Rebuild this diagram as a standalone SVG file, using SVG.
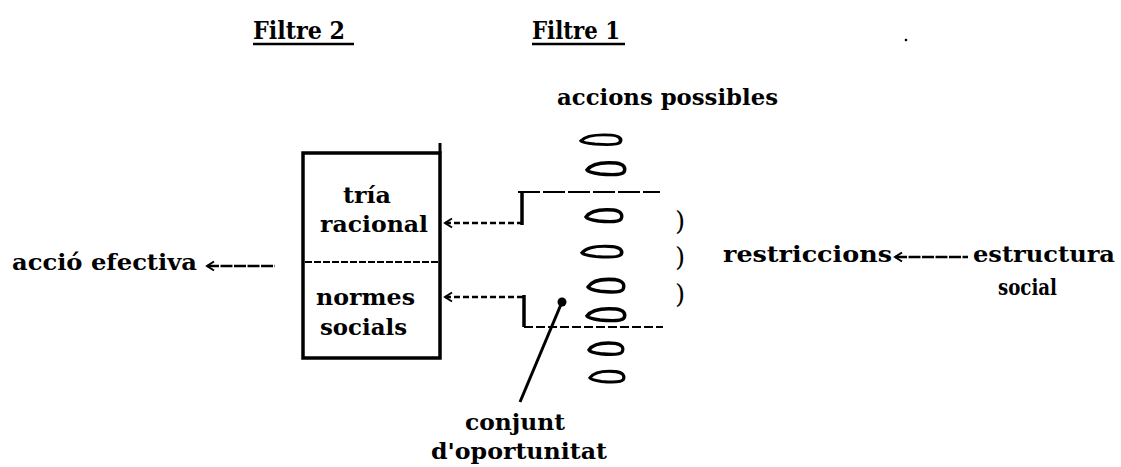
<svg xmlns="http://www.w3.org/2000/svg" xmlns:xlink="http://www.w3.org/1999/xlink" width="1121" height="467" viewBox="0 0 1121 467">
<style>
  .t { font-family: "DejaVu Serif", "Liberation Serif", serif; font-size: 22px; font-weight: bold; fill: #000; }
  .h { font-family: "DejaVu Serif", "Liberation Serif", serif; font-size: 24px; font-weight: bold; fill: #000; }
  .br { font-family: "DejaVu Serif", "Liberation Serif", serif; font-size: 26px; fill: #000; }
  .ln { fill: none; stroke: #000; stroke-linecap: butt; }
  .dash { stroke-width: 2.5; stroke-dasharray: 6 3; }
  .solid { stroke-width: 3.5; }
  .lens { fill: #fff; stroke: #000; stroke-width: 3.5; }
</style>
<defs>
  <marker id="chev" markerUnits="userSpaceOnUse" markerWidth="12" markerHeight="12" refX="0" refY="0" viewBox="-1 -6 10 12" orient="auto" overflow="visible">
    <path d="M7,-4.5 L0,0 L7,4.5" fill="none" stroke="#000" stroke-width="2"/>
  </marker>
  <path id="lensShape" d="M-19,1 C-14,-6 -2,-7 10,-6 C18,-5 20,-1 18,3 C16,6 5,6 -6,5 C-13,4 -18,3 -19,1 Z"/>
</defs>
<rect width="1121" height="467" fill="#fff"/>

<g id="headers">
  <text class="h" x="253" y="39" textLength="92" lengthAdjust="spacingAndGlyphs">Filtre 2</text>
  <line class="ln" x1="253" y1="44" x2="354" y2="44" stroke-width="2.5"/>
  <text class="h" x="532" y="39" textLength="88" lengthAdjust="spacingAndGlyphs">Filtre 1</text>
  <line class="ln" x1="532" y1="44" x2="625" y2="44" stroke-width="2.5"/>
  <circle cx="906" cy="40" r="1.3" fill="#000"/>
</g>

<g id="accions">
  <text class="t" x="557" y="105" textLength="221" lengthAdjust="spacingAndGlyphs">accions possibles</text>
  <use xlink:href="#lensShape" class="lens" transform="translate(601,140) scale(1.05,0.8)"/>
  <use xlink:href="#lensShape" class="lens" transform="translate(606,169)"/>
  <use xlink:href="#lensShape" class="lens" transform="translate(604,216) scale(0.95,1)"/>
  <use xlink:href="#lensShape" class="lens" transform="translate(602,252) scale(1.05,0.9)"/>
  <use xlink:href="#lensShape" class="lens" transform="translate(606,286) scale(0.95,1.05)"/>
  <use xlink:href="#lensShape" class="lens" transform="translate(606,315)"/>
  <use xlink:href="#lensShape" class="lens" transform="translate(606,349) scale(0.9,0.95)"/>
  <use xlink:href="#lensShape" class="lens" transform="translate(607,377) scale(0.9,0.9)"/>
</g>

<g id="box">
  <rect x="303" y="153" width="137" height="205" fill="none" stroke="#000" stroke-width="3.5"/>
  <line class="ln" x1="440" y1="143" x2="440" y2="153" stroke-width="3"/>
  <line class="ln" x1="305" y1="262" x2="438" y2="262" stroke-width="2" stroke-dasharray="7 2"/>
  <text class="t" x="343" y="203" textLength="48" lengthAdjust="spacingAndGlyphs">tría</text>
  <text class="t" x="320" y="232" textLength="108" lengthAdjust="spacingAndGlyphs">racional</text>
  <text class="t" x="316" y="305" textLength="99" lengthAdjust="spacingAndGlyphs">normes</text>
  <text class="t" x="320" y="335" textLength="87" lengthAdjust="spacingAndGlyphs">socials</text>
</g>

<g id="accio">
  <text class="t" x="12" y="270" textLength="185" lengthAdjust="spacingAndGlyphs">acció efectiva</text>
</g>

<g id="restriccions">
  <text class="br" x="675" y="230">)</text>
  <text class="br" x="675" y="266">)</text>
  <text class="br" x="675" y="303">)</text>
  <text class="t" x="723" y="262" textLength="169" lengthAdjust="spacingAndGlyphs">restriccions</text>
</g>

<g id="estructura">
  <text class="t" x="973" y="262" textLength="142" lengthAdjust="spacingAndGlyphs">estructura</text>
  <text class="t" x="998" y="295" textLength="59" lengthAdjust="spacingAndGlyphs">social</text>
</g>

<g id="conjunt">
  <text class="t" x="465" y="430" textLength="100" lengthAdjust="spacingAndGlyphs">conjunt</text>
  <text class="t" x="431" y="459" textLength="176" lengthAdjust="spacingAndGlyphs">d'oportunitat</text>
</g>

<g id="connectors">
  <path class="ln" d="M207,266 H275" stroke-width="2.5" stroke-dasharray="12 1.5" marker-start="url(#chev)"/>
  <path class="ln dash" d="M445,223 H522" marker-start="url(#chev)"/>
  <path class="ln solid" d="M522,225 V192"/>
  <path class="ln" d="M518,192 H660" stroke-width="2" stroke-dasharray="22 3"/>
  <path class="ln dash" d="M445,297 H524" marker-start="url(#chev)"/>
  <path class="ln solid" d="M524,295 V327"/>
  <path class="ln" d="M524,327 H663" stroke-width="2" stroke-dasharray="9 3"/>
  <path class="ln" d="M895,257 H968" stroke-width="2.5" stroke-dasharray="12 1.5" marker-start="url(#chev)"/>
  <line class="ln" x1="520" y1="402" x2="562" y2="302" stroke-width="3"/>
  <circle cx="562" cy="302" r="4.5" fill="#000"/>
</g>
</svg>
